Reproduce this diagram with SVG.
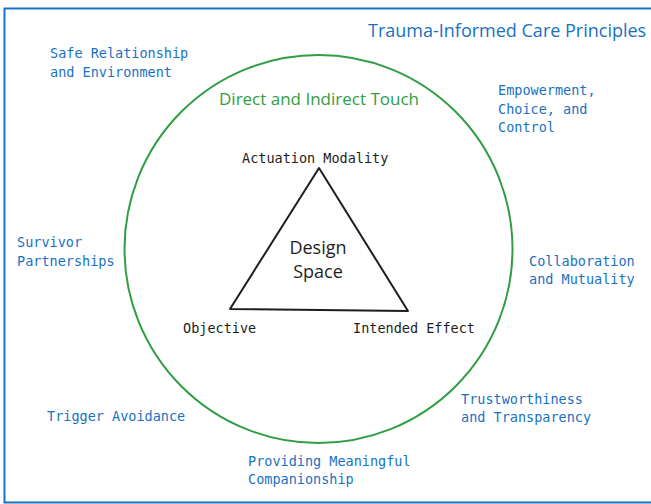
<svg xmlns="http://www.w3.org/2000/svg" width="651" height="504" viewBox="0 0 651 504">
<style>
.lbl{font-family:"DejaVu Sans Mono","Liberation Mono",monospace;font-size:13.5px;fill:#1971c2}
.blk{font-family:"DejaVu Sans Mono","Liberation Mono",monospace;font-size:13.5px;fill:#1e1e1e}
.title{font-family:"Open Sans","Noto Sans",sans-serif;font-size:18px;fill:#1971c2}
.green{font-family:"Open Sans","Noto Sans",sans-serif;font-size:17px;fill:#2f9e44}
.ds{font-family:"Open Sans","Noto Sans",sans-serif;font-size:18px;fill:#1e1e1e}
</style>
<rect width="651" height="504" fill="#ffffff"/>
<g id="frame">
<rect x="4.5" y="8.5" width="700" height="494" fill="none" stroke="#1971c2" stroke-width="2"/>
<text class="title" x="368" y="37">Trauma-Informed Care Principles</text>
</g>
<g id="circle">
<circle cx="318.5" cy="249" r="194" fill="none" stroke="#2f9e44" stroke-width="2"/>
<text class="green" x="219" y="105">Direct and Indirect Touch</text>
</g>
<g id="triangle">
<polygon points="319,168 230,309 408,311" fill="none" stroke="#1e1e1e" stroke-width="2" stroke-linejoin="round"/>
<text class="ds" x="318" y="254" text-anchor="middle">Design</text>
<text class="ds" x="318" y="278" text-anchor="middle">Space</text>
</g>
<g id="actuation"><text class="blk" x="242" y="163">Actuation Modality</text></g>
<g id="objective"><text class="blk" x="183" y="333">Objective</text></g>
<g id="effect"><text class="blk" x="353" y="333">Intended Effect</text></g>
<g id="safe"><text class="lbl" x="50" y="58">Safe Relationship</text><text class="lbl" x="50" y="77">and Environment</text></g>
<g id="empower"><text class="lbl" x="498" y="95">Empowerment,</text><text class="lbl" x="498" y="114">Choice, and</text><text class="lbl" x="498" y="132">Control</text></g>
<g id="survivor"><text class="lbl" x="17" y="247">Survivor</text><text class="lbl" x="17" y="266">Partnerships</text></g>
<g id="collab"><text class="lbl" x="529" y="266">Collaboration</text><text class="lbl" x="529" y="284">and Mutuality</text></g>
<g id="trigger"><text class="lbl" x="47" y="421">Trigger Avoidance</text></g>
<g id="trust"><text class="lbl" x="461" y="404">Trustworthiness</text><text class="lbl" x="461" y="422">and Transparency</text></g>
<g id="companion"><text class="lbl" x="248" y="466">Providing Meaningful</text><text class="lbl" x="248" y="484">Companionship</text></g>
<g id="connectors"></g>
</svg>
